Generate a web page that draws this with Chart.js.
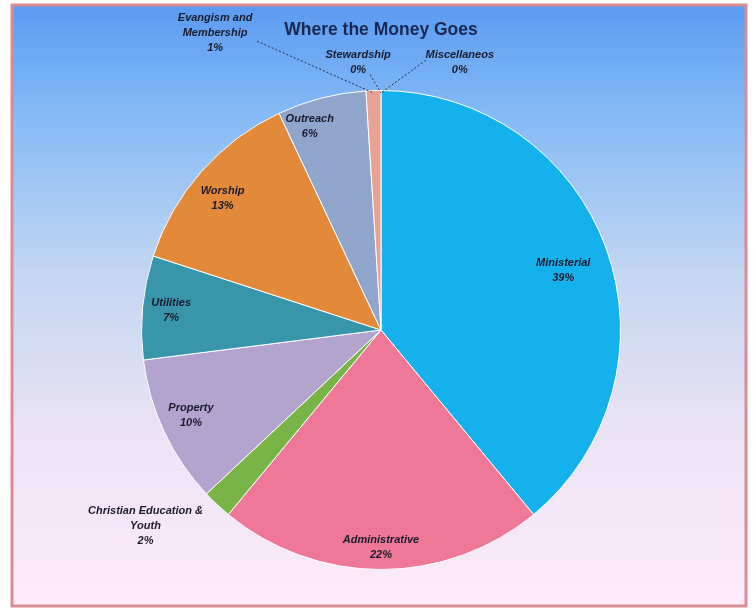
<!DOCTYPE html>
<html lang="en">
<head>
    <meta charset="UTF-8">
    <title>Where the Money Goes</title>
    <script src="https://cdn.jsdelivr.net/npm/chart.js"></script>
    <style>
        body { margin: 0; background: #fff; }
    </style>
</head>
<body>
    <canvas id="moneyChart" width="754" height="608"></canvas>

    <script>
        // Budget categories, clockwise from 12 o'clock
        const categories = ['Ministerial', 'Administrative', 'Christian Education &\nYouth', 'Property',
            'Utilities', 'Worship', 'Outreach', 'Evangism and\nMembership', 'Stewardship', 'Miscellaneos'];
        const percents = [39, 22, 2, 10, 7, 13, 6, 1, 0, 0];
        const percentLabels = ['39%', '22%', '2%', '10%', '7%', '13%', '6%', '1%', '0%', '0%'];

        const sliceColors = ['#14b1ec', '#ef7898', '#78b446', '#b2a4cc', '#3895aa',
            '#e2893a', '#8fa5cb', '#e8a293', '#d9a0a0', '#c0c0c0'];

        // where each label sits: radius factor, angle shift (deg), leader line start offset
        const labelPlace = [
            { r: 0.80, da: 1.8 },
            { r: 0.91, da: 0 },
            { r: 1.28, da: 7 },
            { r: 0.87, da: 1 },
            { r: 0.88, da: 0 },
            { r: 0.86, da: -1.7 },
            { r: 0.90, da: -4.9 },
            { r: 1.42, da: -27.4, lead: [42, 8] },
            { r: 1.12, da: -4.9, lead: [12, 12] },
            { r: 1.165, da: 16.4, lead: [-34, -2] }
        ];

        const backdrop = {
            id: 'backdrop',
            beforeDraw(chart) {
                const ctx = chart.ctx;
                ctx.save();
                ctx.fillStyle = '#fff';
                ctx.fillRect(0, 0, chart.width, chart.height);
                const g = ctx.createLinearGradient(0, 5, 0, 606);
                g.addColorStop(0, '#5a9bf1');
                g.addColorStop(0.18, '#84baf6');
                g.addColorStop(0.45, '#c4d6f1');
                g.addColorStop(0.72, '#ece3f5');
                g.addColorStop(1, '#fdebfa');
                ctx.fillStyle = g;
                ctx.fillRect(12, 5, 734, 601);
                ctx.strokeStyle = '#da8c94';
                ctx.lineWidth = 3;
                ctx.strokeRect(12, 5, 734, 601);
                ctx.fillStyle = '#1a2752';
                ctx.font = 'bold 17.5px "Liberation Sans", Arial, sans-serif';
                ctx.textAlign = 'center';
                ctx.textBaseline = 'middle';
                ctx.fillText('Where the Money Goes', 381, 30);
                ctx.restore();
            }
        };

        const sliceLabels = {
            id: 'sliceLabels',
            afterDatasetsDraw(chart) {
                const ctx = chart.ctx;
                const arcs = chart.getDatasetMeta(0).data;
                ctx.save();
                ctx.font = 'italic bold 11px "Liberation Sans", Arial, sans-serif';
                ctx.textAlign = 'center';
                ctx.textBaseline = 'middle';
                arcs.forEach((arc, i) => {
                    const p = labelPlace[i];
                    const mid = (arc.startAngle + arc.endAngle) / 2;
                    const a = mid + p.da * Math.PI / 180;
                    const lx = arc.x + Math.cos(a) * arc.outerRadius * p.r;
                    const ly = arc.y + Math.sin(a) * arc.outerRadius * p.r;
                    const lines = categories[i].split('\n').concat(percentLabels[i]);
                    const lh = 15;
                    const y0 = ly - (lines.length - 1) * lh / 2;
                    ctx.fillStyle = '#1a1a2c';
                    lines.forEach((t, k) => ctx.fillText(t, lx, y0 + k * lh));
                    if (p.lead) {
                        ctx.strokeStyle = '#2a3040';
                        ctx.lineWidth = 1;
                        ctx.setLineDash([2, 2]);
                        ctx.beginPath();
                        ctx.moveTo(lx + p.lead[0], ly + p.lead[1]);
                        ctx.lineTo(arc.x + Math.cos(mid) * arc.outerRadius * 0.99,
                                   arc.y + Math.sin(mid) * arc.outerRadius * 0.99);
                        ctx.stroke();
                        ctx.setLineDash([]);
                    }
                });
                ctx.restore();
            }
        };

        const ctx = document.getElementById('moneyChart').getContext('2d');
        new Chart(ctx, {
            type: 'pie',
            data: {
                labels: categories,
                datasets: [{
                    data: percents,
                    backgroundColor: sliceColors,
                    borderColor: '#ffffff',
                    borderWidth: 1
                }]
            },
            options: {
                responsive: false,
                animation: false,
                layout: { padding: { left: 141, right: 133, top: 90, bottom: 38 } },
                plugins: {
                    legend: { display: false },
                    tooltip: { enabled: false }
                }
            },
            plugins: [backdrop, sliceLabels]
        });
    </script>
</body>
</html>
